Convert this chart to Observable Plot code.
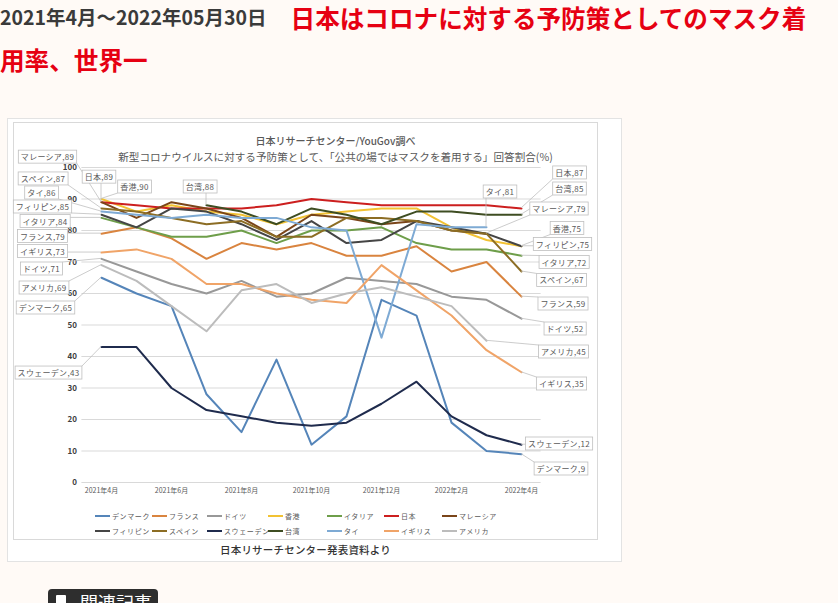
<!DOCTYPE html>
<html><head><meta charset="utf-8">
<script src="https://cdn.jsdelivr.net/npm/d3@7"></script>
<script src="https://cdn.jsdelivr.net/npm/@observablehq/plot@0.6"></script>
<style>
html,body{margin:0;padding:0;}
body{background:#fffaf6;width:838px;height:603px;overflow:hidden;position:relative;font-family:"Noto Sans CJK JP","Noto Sans",sans-serif;}
#line1{position:absolute;left:0;top:3px;height:28px;display:flex;align-items:center;white-space:nowrap;line-height:1;}
#date{font-size:19.5px;font-weight:700;color:#3a3a3a;line-height:1;}
#red1{font-size:24.6px;font-weight:700;color:#e60012;margin-left:24px;line-height:1;}
#line2{position:absolute;left:0;top:45px;height:28px;display:flex;align-items:center;white-space:nowrap;font-size:24.6px;line-height:1;font-weight:700;color:#e60012;}
#outer{position:absolute;left:7px;top:118px;width:615px;height:444px;background:#fff;border:1px solid #e3e3e3;box-sizing:border-box;}
#inner{position:absolute;left:13px;top:122px;width:585px;height:418px;border:1px solid #d9d9d9;box-sizing:border-box;}
#plot{position:absolute;left:13px;top:122px;}
#legend{position:absolute;left:0;top:0;}
.li{position:absolute;display:flex;align-items:center;height:10px;white-space:nowrap;font-size:7px;color:#595959;letter-spacing:0.6px;}
.sw{width:15px;height:2.5px;margin-right:2px;}
#caption{position:absolute;left:13px;top:542px;width:585px;text-align:center;font-size:10.5px;line-height:16px;color:#333;font-weight:500;letter-spacing:0.2px;}
#btn{position:absolute;left:48px;top:589px;width:110px;height:40px;background:#2e2e2e;border-radius:4px;}
#btn .ic{position:absolute;left:8px;top:6px;width:10px;height:13px;background:#fff;border-radius:1px;}
#btn .tx{position:absolute;left:32px;top:4px;font-size:18px;line-height:18px;color:#fff;white-space:nowrap;}
</style></head><body>
<div id="line1"><span id="date">2021年4月～2022年05月30日</span><span id="red1">日本はコロナに対する予防策としてのマスク着</span></div>
<div id="line2">用率、世界一</div>
<div id="outer"></div>
<div id="inner"></div>
<div id="plot"></div>
<div id="legend"></div>
<div id="caption">日本リサーチセンター発表資料より</div>
<div id="btn"><div class="ic"></div><div class="tx">関連記事</div></div>
<script>
// ---- data ----
const months = ["2021年4月","2021年5月","2021年6月","2021年7月","2021年8月","2021年9月","2021年10月","2021年11月","2021年12月","2022年1月","2022年2月","2022年3月","2022年4月"];
const tickMonths = ["2021年4月","2021年6月","2021年8月","2021年10月","2021年12月","2022年2月","2022年4月"];
const yTicks = [0,10,20,30,40,50,60,70,80,90,100];
const seriesNames = ["デンマーク","フランス","ドイツ","香港","イタリア","日本","マレーシア","フィリピン","スペイン","スウェーデン","台湾","タイ","イギリス","アメリカ"];
const denmark     = [65, 60, 56, 28, 16, 39, 12, 21, 58, 53, 19, 10, 9];
const france      = [79, 81, 77.5, 71, 76, 74, 76, 72, 72, 75, 67, 70, 59];
const germany     = [71, 67, 63, 60, 64, 59, 60, 65, 64, 63, 59, 58, 52];
const hongkong    = [90, 86, 88, 86, 85, 82, 85, 86, 87, 87, 81, 77, 75];
const italy       = [84, 81, 78, 78, 80, 76, 80, 80, 81, 76, 74, 74, 72];
const japan       = [89, 88, 87, 87, 87, 88, 90, 89, 88, 88, 88, 88, 87];
const malaysia    = [89, 84, 89, 87, 84, 78, 85, 84, 82, 83, 80, 79, null];
const philippines = [85, 81, 87, 86, 82, 77, 83, 76, 77, 83, 81, 79, 75];
const spain       = [87, 86, 84, 82, 83, 78, 78, 84, 84, 83, 80, 79, 67];
const sweden      = [43, 43, 30, 23, 21, 19, 18, 19, 25, 32, 21, 15, 12];
const taiwan      = [null, null, null, 88, 86, 82, 87, 85, 82, 86, 86, 85, 85];
const thai        = [86, 85, 84, 85, 84, 84, 81, 80, 46, 82, 81, 81, null];
const uk          = [73, 74, 71, 63, 63, 60, 58, 57, 69, 61, 53, 42, 35];
const us          = [69, 64, 56, 48, 61, 63, 57, 60, 62, 59, 56, 45, null];
const seriesValues = [denmark, france, germany, hongkong, italy, japan, malaysia, philippines, spain, sweden, taiwan, thai, uk, us];
const titleText = "日本リサーチセンター/YouGov調べ";
const subtitleText = "新型コロナウイルスに対する予防策として、「公共の場ではマスクを着用する」回答割合(%)";

// ---- styles ----
const lineColors = ["#5585b9","#d9843f","#989898","#f2c233","#6e9e4a","#cc1f1f","#7a4519","#454545","#8c6d24","#1f2b4d","#3e4d22","#7eaad4","#f0a468","#bcbcbc"];
// callouts: [series index, month index, box offset dx, dy (px)]
const callouts = [
  [6,0,-53.5,-45],[8,0,-58,-29.5],[11,0,-59.5,-18.6],[7,0,-58.5,-7.75],[4,0,-56,3.6],
  [1,0,-58.5,2.85],[12,0,-58.5,-1],[2,0,-59.5,10.15],[13,0,-57,22.85],[0,0,-55.5,30.25],
  [9,0,-52.5,26],[5,0,-2,-25],[3,0,33.5,-12],[10,3,-6,-18.3],
  [5,12,48.5,-35.5],[10,12,48.5,-25.75],[6,11,73,-24.65],[3,12,46,-17.75],[7,12,41.5,-1.75],
  [4,12,43,6.8],[8,12,40.5,9],[1,12,42,7.35],[2,12,44,10.3],[13,11,77.5,11.25],
  [12,12,40.5,11.75],[9,12,38,-0.7],[0,12,40,14.85],[11,11,14,-35.35]
];

const rows = [];
seriesNames.forEach((name, s) => seriesValues[s].forEach((v, i) => {
  if (v != null) rows.push({name, month: months[i], value: v});
}));

const chart = Plot.plot({
  width: 585, height: 378,
  marginLeft: 68.4, marginRight: 57.4, marginTop: 45, marginBottom: 18,
  style: {background: "transparent", fontFamily: "'Noto Sans CJK JP', sans-serif", fontSize: "7px", color: "#595959", overflow: "visible"},
  x: {type: "point", domain: months, padding: 0.5, label: null, tickSize: 0, tickPadding: 6, tickFormat: d => tickMonths.includes(d) ? d : ""},
  y: {domain: [0, 100], ticks: yTicks, label: null, tickSize: 0, tickPadding: 5},
  color: {domain: seriesNames, range: lineColors},
  marks: [
    Plot.ruleY(yTicks, {stroke: "#d9d9d9", strokeWidth: 1}),
    Plot.line(rows, {x: "month", y: "value", z: "name", stroke: "name", strokeWidth: 2}),
    Plot.text([titleText], {frameAnchor: "top", dx: 24, dy: -30, text: d => d, fontSize: 10, fill: "#595959", fontWeight: 500}),
    Plot.text([subtitleText], {frameAnchor: "top", dx: 24, dy: -14, text: d => d, fontSize: 10.6, fill: "#595959"})
  ]
});
document.getElementById("plot").appendChild(chart);

const svg = d3.select(chart);
svg.selectAll('[aria-label^="y-axis"] text').attr("font-weight", "bold").attr("font-size", 8).attr("fill", "#404040");
svg.selectAll('[aria-label^="x-axis"] text').attr("font-size", 7).attr("fill", "#595959");

const xs = chart.scale("x"), ys = chart.scale("y");
const xf = xs.apply ? (d => xs.apply(d)) : d3.scalePoint(xs.domain, xs.range).padding(xs.padding ?? 0.5);
const yf = ys.apply ? (d => ys.apply(d)) : d3.scaleLinear(ys.domain, ys.range);

const gLead = svg.append("g"), gBox = svg.append("g");
callouts.forEach(([s, i, dx, dy]) => {
  const v = seriesValues[s][i];
  const px = xf(months[i]), py = yf(v);
  const cx = px + dx, cy = py + dy;
  const g = gBox.append("g");
  const rect = g.append("rect");
  const t = g.append("text").attr("x", cx).attr("y", cy)
    .attr("text-anchor", "middle").attr("dominant-baseline", "central")
    .attr("font-size", 8).attr("letter-spacing", 0.3).attr("fill", "#595959")
    .text(`${seriesNames[s]},${v}`);
  const bb = t.node().getBBox();
  const x0 = bb.x - 2.5, x1 = bb.x + bb.width + 2.5, y0 = cy - 6.5, y1 = cy + 6.5;
  rect.attr("x", x0).attr("y", y0).attr("width", x1 - x0).attr("height", y1 - y0)
    .attr("fill", "#fff").attr("stroke", "#bfbfbf").attr("stroke-width", 0.8);
  const qx = Math.max(x0, Math.min(px, x1)), qy = Math.max(y0, Math.min(py, y1));
  gLead.append("line").attr("x1", px).attr("y1", py).attr("x2", qx).attr("y2", qy)
    .attr("stroke", "#bfbfbf").attr("stroke-width", 0.8);
});

// legend (HTML below the plot)
const legendCols = [95, 152, 207, 268, 327, 384, 442];
const legendRows = [511, 526];
const leg = d3.select("#legend");
seriesNames.forEach((name, s) => {
  const item = leg.append("div").attr("class", "li")
    .style("left", legendCols[s % 7] + "px").style("top", legendRows[Math.floor(s / 7)] + "px");
  item.append("div").attr("class", "sw").style("background", lineColors[s]);
  item.append("span").text(name);
});
</script>
</body></html>
